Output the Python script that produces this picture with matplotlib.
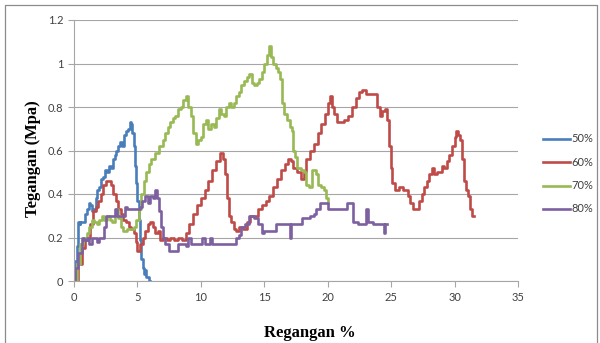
import matplotlib
matplotlib.use("Agg")
import matplotlib.pyplot as plt
from matplotlib.lines import Line2D

# strain (%) and stress (MPa)
x50 = [0, 0.1, 0.25, 0.35, 0.45, 0.5, 0.7, 0.85, 1.0, 1.15, 1.3, 1.45, 1.55, 1.7, 1.85, 2.0,
       2.15, 2.3, 2.45, 2.6, 2.75, 2.9, 3.05, 3.2, 3.35, 3.5, 3.65, 3.8, 3.95, 4.1, 4.25, 4.4,
       4.5, 4.6, 4.7, 4.8, 4.9, 5.0, 5.1, 5.2, 5.3, 5.4, 5.5, 5.6, 5.7, 5.8, 5.9, 6.0]
y50 = [0, 0.09, 0.16, 0.27, 0.26, 0.27, 0.27, 0.31, 0.33, 0.36, 0.35, 0.32, 0.33, 0.38, 0.42, 0.43,
       0.47, 0.48, 0.51, 0.50, 0.53, 0.52, 0.56, 0.58, 0.60, 0.62, 0.64, 0.62, 0.67, 0.69, 0.70, 0.73,
       0.72, 0.68, 0.62, 0.53, 0.45, 0.37, 0.28, 0.19, 0.10, 0.06, 0.03, 0.05, 0.02, 0.02, 0.0, 0.0]

x60 = [0, 0.3, 0.6, 0.9, 1.1, 1.3, 1.5, 1.7, 1.9, 2.1, 2.3, 2.5, 2.7, 2.9, 3.1, 3.3, 3.5, 3.7,
       3.9, 4.1, 4.3, 4.5, 4.7, 4.85, 5.0, 5.2, 5.4, 5.6, 5.8, 6.0, 6.2, 6.4, 6.6, 6.8, 7.0, 7.3,
       7.6, 7.9, 8.2, 8.5, 8.8, 9.1, 9.4, 9.7, 10.0, 10.3, 10.6, 10.9, 11.2, 11.5, 11.75, 11.9,
       12.05, 12.2, 12.4, 12.6, 12.8, 13.0, 13.3, 13.6, 13.9, 14.2, 14.5, 14.8, 15.1, 15.4, 15.7,
       16.0, 16.3, 16.6, 16.9, 17.1, 17.3, 17.6, 17.9, 18.1, 18.3, 18.6, 18.9, 19.2, 19.5, 19.8,
       20.0, 20.15, 20.3, 20.5, 20.7, 21.0, 21.3, 21.6, 21.9, 22.2, 22.5, 22.7, 23.0, 23.3, 23.6,
       23.85, 24.1, 24.3, 24.5, 24.65, 24.8, 24.95, 25.1, 25.3, 25.6, 25.9, 26.1, 26.3, 26.5,
       26.7, 27.0, 27.2, 27.4, 27.6, 27.8, 28.0, 28.2, 28.4, 28.6, 28.8, 29.0, 29.2, 29.4, 29.6,
       29.8, 30.0, 30.15, 30.3, 30.45, 30.6, 30.75, 30.9, 31.05, 31.2, 31.35, 31.5]
y60 = [0, 0.08, 0.15, 0.19, 0.2, 0.26, 0.32, 0.34, 0.37, 0.40, 0.44, 0.46, 0.46, 0.44, 0.40, 0.37,
       0.33, 0.31, 0.28, 0.27, 0.25, 0.24, 0.22, 0.18, 0.14, 0.17, 0.2, 0.23, 0.26, 0.27, 0.25,
       0.22, 0.23, 0.19, 0.2, 0.19, 0.2, 0.19, 0.2, 0.19, 0.22, 0.26, 0.31, 0.35, 0.38, 0.42, 0.46,
       0.51, 0.55, 0.59, 0.56, 0.49, 0.38, 0.30, 0.27, 0.24, 0.23, 0.25, 0.24, 0.27, 0.30, 0.30,
       0.33, 0.35, 0.37, 0.39, 0.43, 0.47, 0.51, 0.54, 0.56, 0.55, 0.52, 0.50, 0.47, 0.50, 0.56,
       0.60, 0.63, 0.68, 0.72, 0.77, 0.82, 0.85, 0.80, 0.77, 0.73, 0.73, 0.74, 0.76, 0.80, 0.84,
       0.87, 0.88, 0.86, 0.86, 0.86, 0.80, 0.76, 0.78, 0.79, 0.74, 0.62, 0.52, 0.45, 0.42, 0.43,
       0.42, 0.42, 0.39, 0.36, 0.33, 0.33, 0.37, 0.40, 0.43, 0.46, 0.49, 0.52, 0.49, 0.50, 0.50,
       0.53, 0.52, 0.55, 0.58, 0.62, 0.66, 0.69, 0.67, 0.65, 0.56, 0.46, 0.42, 0.39, 0.33, 0.30,
       0.30]

x70 = [0, 0.2, 0.45, 0.7, 1.0, 1.2, 1.4, 1.6, 1.8, 2.0, 2.2, 2.4, 2.6, 2.8, 3.0, 3.2, 3.35, 3.5,
       3.7, 3.9, 4.2, 4.5, 4.7, 4.9, 5.1, 5.3, 5.5, 5.7, 5.9, 6.1, 6.4, 6.7, 7.0, 7.2, 7.4, 7.6,
       7.8, 8.0, 8.2, 8.4, 8.6, 8.8, 9.0, 9.2, 9.4, 9.6, 9.8, 10.0, 10.2, 10.4, 10.6, 10.8, 11.0,
       11.2, 11.4, 11.6, 11.8, 12.0, 12.2, 12.4, 12.6, 12.8, 13.0, 13.2, 13.4, 13.6, 13.8, 14.0,
       14.2, 14.4, 14.6, 14.8, 15.0, 15.2, 15.35, 15.5, 15.7, 15.9, 16.1, 16.25, 16.4, 16.55, 16.8,
       17.0, 17.2, 17.3, 17.4, 17.6, 17.9, 18.1, 18.3, 18.5, 18.7, 18.8, 19.0, 19.1, 19.25, 19.5,
       19.7, 19.85, 20.0]
y70 = [0, 0.08, 0.17, 0.2, 0.22, 0.25, 0.28, 0.27, 0.26, 0.28, 0.30, 0.28, 0.30, 0.28, 0.27, 0.30,
       0.33, 0.29, 0.25, 0.23, 0.24, 0.24, 0.25, 0.28, 0.33, 0.40, 0.46, 0.50, 0.54, 0.56, 0.59,
       0.62, 0.65, 0.68, 0.71, 0.73, 0.75, 0.76, 0.79, 0.80, 0.83, 0.85, 0.80, 0.76, 0.68, 0.63,
       0.65, 0.66, 0.72, 0.74, 0.70, 0.72, 0.71, 0.75, 0.79, 0.77, 0.76, 0.80, 0.82, 0.80, 0.82,
       0.85, 0.87, 0.90, 0.92, 0.94, 0.95, 0.91, 0.90, 0.91, 0.93, 0.96, 1.00, 1.04, 1.08, 1.03,
       1.00, 0.98, 0.96, 0.93, 0.82, 0.77, 0.74, 0.71, 0.69, 0.60, 0.57, 0.52, 0.51, 0.50, 0.44,
       0.43, 0.43, 0.51, 0.51, 0.49, 0.44, 0.43, 0.42, 0.38, 0.36]

x80 = [0, 0.1, 0.35, 0.6, 0.8, 1.0, 1.2, 1.4, 1.6, 1.8, 2.0, 2.2, 2.35, 2.5, 2.8, 3.1, 3.2, 3.4,
       3.7, 3.95, 4.05, 4.2, 4.6, 5.0, 5.2, 5.35, 5.6, 5.8, 6.0, 6.2, 6.4, 6.55, 6.7, 6.85, 7.0,
       7.2, 7.5, 7.8, 8.1, 8.2, 8.6, 8.8, 9.0, 9.2, 9.6, 9.9, 10.1, 10.3, 10.7, 10.9, 11.3, 11.8,
       12.2, 12.6, 12.8, 13.0, 13.2, 13.5, 13.8, 14.2, 14.5, 14.8, 15.0, 15.4, 15.7, 15.9, 16.3,
       16.6, 17.0, 17.05, 17.1, 17.5, 17.8, 18.0, 18.3, 18.6, 18.9, 19.1, 19.4, 19.9, 20.05, 20.5,
       21.0, 21.35, 21.5, 21.8, 22.0, 22.4, 22.8, 23.0, 23.2, 23.6, 24.0, 24.3, 24.4, 24.5, 24.7]
y80 = [0, 0.06, 0.13, 0.2, 0.19, 0.2, 0.17, 0.2, 0.2, 0.18, 0.2, 0.2, 0.25, 0.30, 0.30, 0.30,
       0.33, 0.30, 0.30, 0.30, 0.34, 0.33, 0.33, 0.33, 0.34, 0.37, 0.39, 0.36, 0.39, 0.38, 0.42,
       0.38, 0.32, 0.25, 0.20, 0.17, 0.14, 0.14, 0.14, 0.17, 0.17, 0.16, 0.20, 0.17, 0.17, 0.17,
       0.20, 0.17, 0.20, 0.17, 0.17, 0.17, 0.17, 0.17, 0.20, 0.21, 0.25, 0.26, 0.30, 0.29, 0.26,
       0.22, 0.23, 0.23, 0.23, 0.26, 0.26, 0.26, 0.26, 0.20, 0.26, 0.26, 0.26, 0.29, 0.29, 0.30,
       0.31, 0.33, 0.36, 0.36, 0.33, 0.33, 0.33, 0.33, 0.36, 0.36, 0.27, 0.26, 0.26, 0.33, 0.27,
       0.26, 0.26, 0.26, 0.22, 0.26, 0.26]

labels = ["50%", "60%", "70%", "80%"]
colors = ["#4A7EBB", "#BE4B48", "#98B954", "#7D60A0"]

tick_font = "Lato"
label_font = "Liberation Serif"

fig = plt.figure(figsize=(6.0, 3.43), dpi=100)
ax = fig.add_axes([74 / 600, 1 - 281 / 343, 444 / 600, 261 / 343])

series = [(x50, y50), (x60, y60), (x70, y70), (x80, y80)]
for (xs, ys), col, lab in zip(series, colors, labels):
    # the logged data is quantised, so draw it as small stair steps
    ax.plot(xs, ys, color=col, lw=1.9, label=lab, drawstyle="steps-post")

ax.set_xlim(0, 35)
ax.set_ylim(0, 1.2)
ax.set_xticks(range(0, 36, 5))
ax.set_yticks([0, 0.2, 0.4, 0.6, 0.8, 1.0, 1.2])
ax.set_yticklabels(["0", "0.2", "0.4", "0.6", "0.8", "1", "1.2"])
ax.grid(axis="y", color="#A6A6A6", lw=0.8)
ax.set_axisbelow(True)
for s in ["top", "right"]:
    ax.spines[s].set_visible(False)
for s in ["left", "bottom"]:
    ax.spines[s].set_color("#A6A6A6")
    ax.spines[s].set_linewidth(0.8)
ax.tick_params(axis="both", colors="#A6A6A6", length=4, width=0.8, labelsize=8,
               labelcolor="#404040")
ax.tick_params(axis="x", pad=4)
for t in ax.get_xticklabels() + ax.get_yticklabels():
    t.set_fontfamily(tick_font)

fig.text(310 / 600, 1 - 333 / 343, "Regangan %", ha="center", va="center",
         fontsize=12, fontweight="bold", family=label_font)
fig.text(33 / 600, 1 - 159 / 343, "Tegangan (Mpa)", ha="center", va="center",
         rotation=90, fontsize=12, fontweight="bold", family=label_font)

# legend drawn by hand at the right
for i, (col, lab) in enumerate(zip(colors, labels)):
    yy = 1 - (139 + i * 23.3) / 343
    fig.add_artist(Line2D([543 / 600, 570 / 600], [yy, yy], color=col, lw=1.9,
                          transform=fig.transFigure))
    fig.text(571 / 600, yy, lab, ha="left", va="center", fontsize=8,
             family=tick_font, color="#404040")

# outer chart frame
fig.add_artist(Line2D([5 / 600, 5 / 600, 597 / 600, 597 / 600], [0, 1 - 5 / 343, 1 - 5 / 343, 0],
                      color="#8C8C8C", lw=0.9, transform=fig.transFigure))

fig.savefig("out.png", dpi=100)
